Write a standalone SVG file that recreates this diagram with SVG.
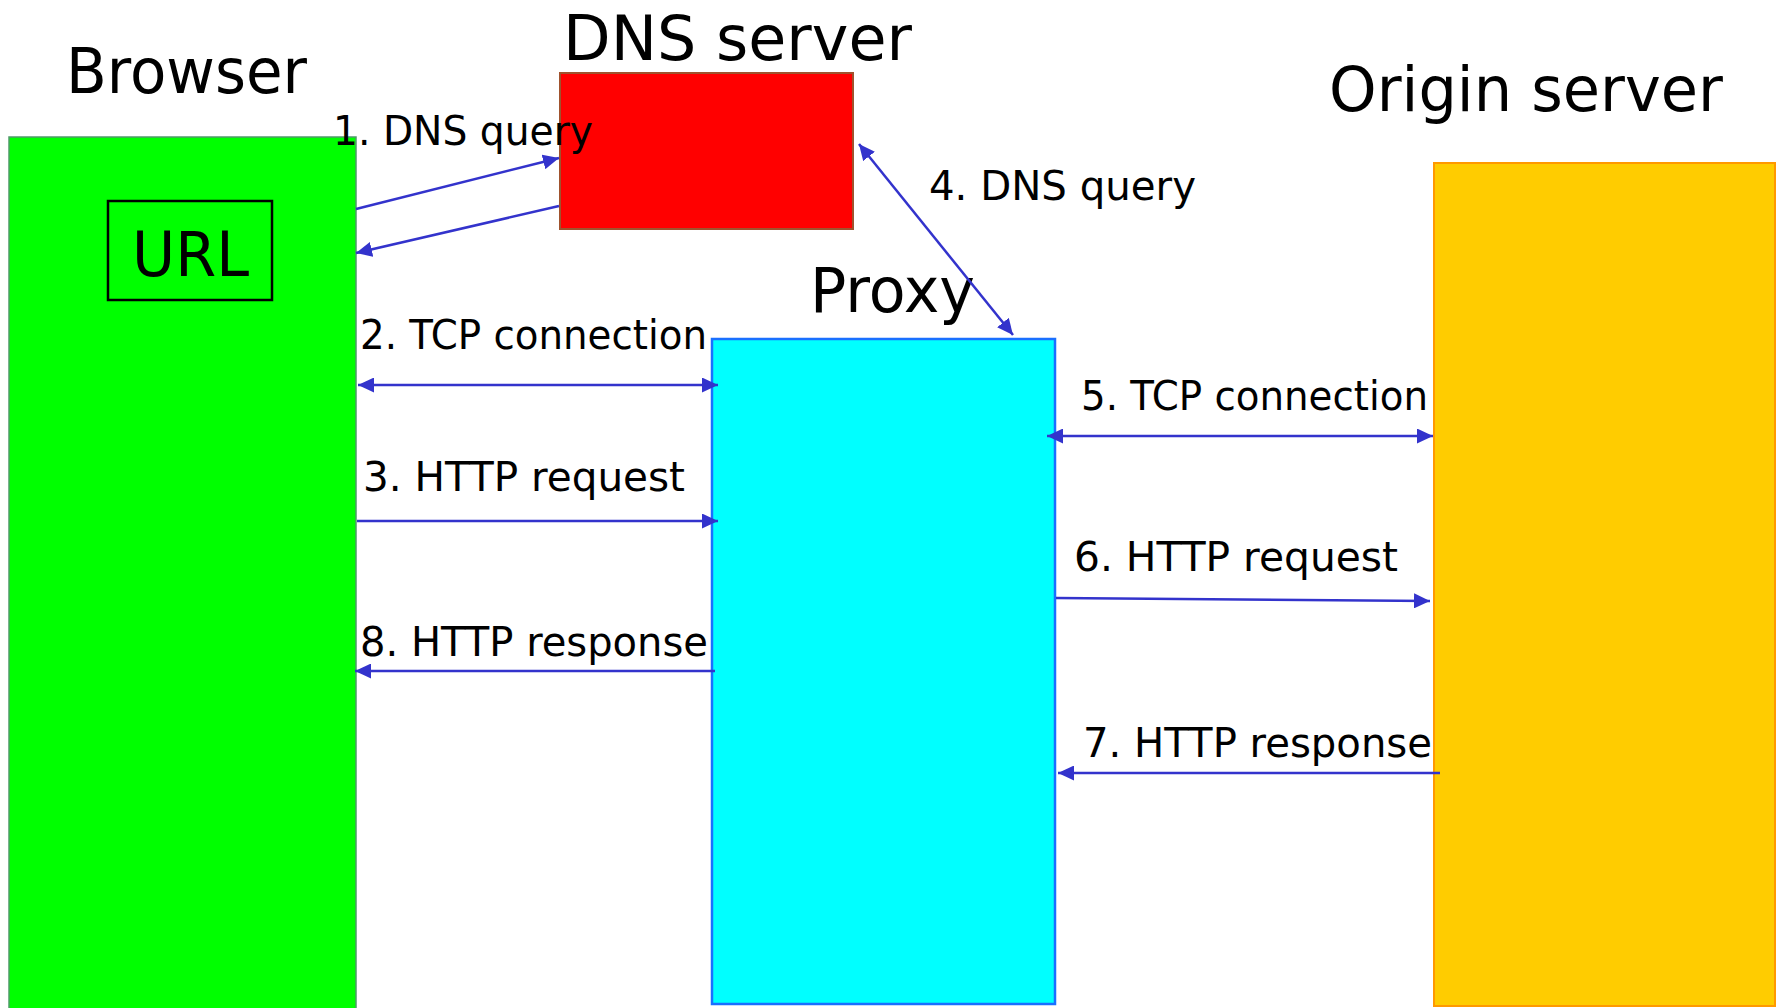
<svg xmlns="http://www.w3.org/2000/svg" width="1781" height="1008" viewBox="0 0 1781 1008">
<style>
.title{font-family:"DejaVu Sans","Liberation Sans",sans-serif;font-size:63px;fill:#000}
.lbl{font-family:"DejaVu Sans","Liberation Sans",sans-serif;font-size:40px;fill:#000}
.conn{stroke:#3333CC;stroke-width:2.5;fill:none}
</style>
<defs>
<marker id="ah" viewBox="0 0 16 15" refX="16" refY="7.5" markerWidth="16" markerHeight="15" markerUnits="userSpaceOnUse" orient="auto-start-reverse">
<path d="M0,0 L16,7.5 L0,15 z" fill="#3333CC"/>
</marker>
</defs>
<rect width="1781" height="1008" fill="#fff"/>
<g id="browser">
<rect x="9" y="137" width="347" height="875" fill="#00FF00" stroke="#4f9a6a" stroke-width="1.5"/>
<text class="title" x="66" y="93" textLength="241" lengthAdjust="spacingAndGlyphs">Browser</text>
</g>
<g id="url">
<rect x="108" y="201" width="164" height="99" fill="none" stroke="#000" stroke-width="2.5"/>
<text class="title" x="132" y="276" font-size="64" textLength="117" lengthAdjust="spacingAndGlyphs">URL</text>
</g>
<g id="dns-server">
<rect x="560" y="73" width="293" height="156" fill="#FF0000" stroke="#a0522d" stroke-width="2"/>
<text class="title" x="563" y="60" textLength="349" lengthAdjust="spacingAndGlyphs">DNS server</text>
</g>
<g id="proxy">
<rect x="712" y="339" width="343" height="665" fill="#00FFFF" stroke="#1a6fff" stroke-width="2.5"/>
<text class="title" x="810" y="312" textLength="165" lengthAdjust="spacingAndGlyphs">Proxy</text>
</g>
<g id="origin-server">
<rect x="1434" y="163" width="341" height="843" fill="#FFCC00" stroke="#ff9900" stroke-width="2"/>
<text class="title" x="1329" y="111" textLength="394" lengthAdjust="spacingAndGlyphs">Origin server</text>
</g>
<g id="connectors">
<line class="conn" x1="356" y1="209" x2="559" y2="158" marker-end="url(#ah)"/>
<line class="conn" x1="559" y1="206" x2="356" y2="253" marker-end="url(#ah)"/>
<line class="conn" x1="358" y1="385" x2="718" y2="385" marker-start="url(#ah)" marker-end="url(#ah)"/>
<line class="conn" x1="357" y1="521" x2="718" y2="521" marker-end="url(#ah)"/>
<line class="conn" x1="715" y1="671" x2="355" y2="671" marker-end="url(#ah)"/>
<line class="conn" x1="859" y1="144" x2="1013" y2="335" marker-start="url(#ah)" marker-end="url(#ah)"/>
<line class="conn" x1="1047" y1="436" x2="1433" y2="436" marker-start="url(#ah)" marker-end="url(#ah)"/>
<line class="conn" x1="1056" y1="598" x2="1430" y2="601" marker-end="url(#ah)"/>
<line class="conn" x1="1440" y1="773" x2="1058" y2="773" marker-end="url(#ah)"/>
</g>
<g id="labels">
<text class="lbl" x="333" y="145" textLength="260" lengthAdjust="spacingAndGlyphs">1. DNS query</text>
<text class="lbl" x="360" y="349" textLength="347" lengthAdjust="spacingAndGlyphs">2. TCP connection</text>
<text class="lbl" x="363" y="491" textLength="322" lengthAdjust="spacingAndGlyphs">3. HTTP request</text>
<text class="lbl" x="929" y="200" textLength="267" lengthAdjust="spacingAndGlyphs">4. DNS query</text>
<text class="lbl" x="1081" y="410" textLength="347" lengthAdjust="spacingAndGlyphs">5. TCP connection</text>
<text class="lbl" x="1074" y="571" textLength="324" lengthAdjust="spacingAndGlyphs">6. HTTP request</text>
<text class="lbl" x="1083" y="757" textLength="349" lengthAdjust="spacingAndGlyphs">7. HTTP response</text>
<text class="lbl" x="360" y="656" textLength="348" lengthAdjust="spacingAndGlyphs">8. HTTP response</text>
</g>
</svg>
